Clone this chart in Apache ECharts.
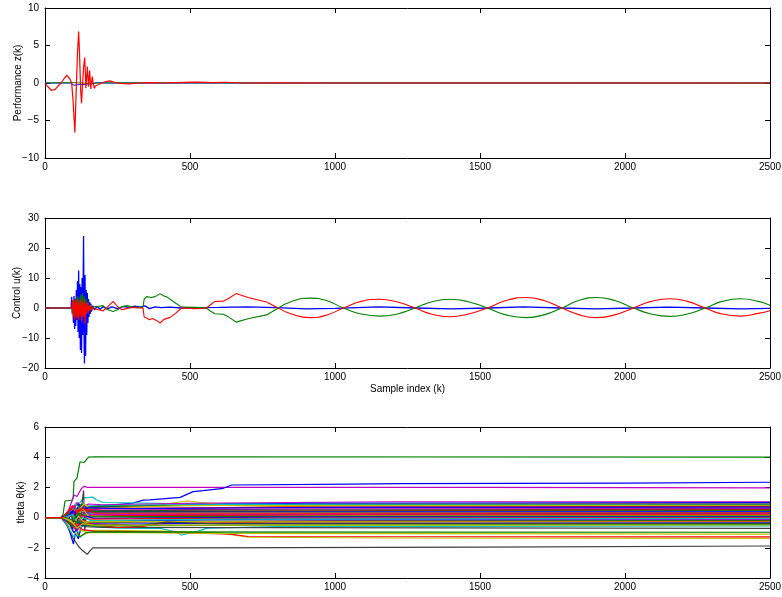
<!DOCTYPE html>
<html><head><meta charset="utf-8">
<script src="https://cdn.jsdelivr.net/npm/echarts@6/dist/echarts.min.js"></script>
<style>html,body{margin:0;padding:0;background:#fff}#c{width:782px;height:597px}</style>
</head><body><div id="c"></div>
<script>
// ---------- data ----------
const kTicks = [0, 500, 1000, 1500, 2000, 2500];
const zTicks = [-10, -5, 0, 5, 10];
const uTicks = [-20, -10, 0, 10, 20, 30];
const thTicks = [-4, -2, 0, 2, 4, 6];

// Panel 1: performance z(k)
const zBlue = [[0,0],[88,0],[92,-0.2],[100,-0.3],[120,-0.2],[140,-0.18],[160,-0.1],[180,0.05],[200,0],[2500,0]];
const zGreen = [[0,0],[100,0.05],[150,-0.05],[200,0.02],[2500,0]];
const zRed = [[0,0],[10,-0.5],[23,-1],[35,-0.85],[55,0],[75,1.05],[85,0.6],[92,0],[97,-2.5],[103,-6.6],[108,-0.5],[112,4],[116,6.85],[119,4],[123,-1],[126,-2.7],[129,-0.5],[133,2],[137,3.4],[139,1.5],[141,-0.7],[143,0.5],[146,2.2],[148,0.8],[150,-0.5],[152,0.5],[154,1.65],[156,0.3],[158,-0.8],[160,0],[163,0.85],[166,0],[170,-0.7],[174,-0.4],[178,-0.3],[185,-0.2],[195,0],[210,0.2],[224,0.28],[240,0.1],[260,-0.05],[290,-0.12],[320,0],[360,0.06],[400,0],[450,0.05],[520,0.12],[580,0.05],[620,0.1],[680,0],[800,0.03],[1000,0],[2500,0]];

// Panel 2: control u(k)
const uBlue = [[0,0],[90,0],[92,3.7],[94,-2],[96,2],[98,-5],[100,4],[102,-7],[104,3],[106,-6],[108,6],[110,-4],[112,9],[114,-8],[116,12.5],[118,-10],[120,8],[122,-14],[124,7],[126,-15],[128,10],[130,-9],[132,13],[133,24],[135,-12],[136,-18.5],[138,11],[140,-16],[142,6],[144,-9],[146,5],[148,-5],[150,3],[152,-3],[154,2],[156,-2],[158,1.5],[160,-1.2],[165,0.8],[170,-0.6],[180,0.5],[190,-0.4],[200,0.4],[215,-0.3],[230,0.4],[250,-0.2],[270,0.5],[290,0.2],[310,0.6],[330,0.3],[345,0.7],[360,-0.2],[380,0.4],[400,0.1],[430,0.3],[470,0],[520,0.1],[600,0.2],[700,0.4],[800,0.1],[900,-0.3],[1000,-0.1],[1150,0.35],[1280,0],[1400,-0.3],[1530,0],[1650,0.4],[1780,0],[1900,-0.3],[2030,0],[2150,0.3],[2280,0],[2400,-0.3],[2500,-0.1]];
const uRedEarly = [[0,0],[92,0],[95,2.5],[98,-3],[100,3],[103,-4],[106,2.5],[109,-3.5],[112,3],[115,-4],[118,2],[121,-3],[124,3],[127,-4.5],[130,2],[133,-3],[136,2.5],[138,-5.5],[141,1.5],[144,-2],[147,2],[150,-1.5],[153,1],[156,-1],[160,0.5],[170,-0.3],[185,-0.6],[200,-1],[215,0.3],[235,2.2],[250,0.5],[265,-0.6],[280,-0.2],[300,0.2],[320,0],[338,0],[342,-3],[350,-3.3],[360,-3.9],[370,-3.5],[385,-4.2],[397,-5],[410,-3.8],[430,-3.2],[450,-1.8],[471,0],[520,-0.2],[555,-0.1],[570,1],[586,2.2],[615,2.3],[630,3],[659,4.8],[700,3.5],[764,2],[800,0.2]];
const uRedLate = [[800,0.2],[850,-2],[914,-3.2],[970,-2.4],[1029,0],[1090,2.2],[1155,2.9],[1215,2],[1276,0],[1335,-2.1],[1397,-2.9],[1460,-2],[1525,0],[1590,2.5],[1659,3.5],[1720,2.5],[1782,0],[1840,-2.2],[1902,-3.2],[1965,-2.3],[2029,0],[2090,2.2],[2155,3.1],[2215,2.2],[2276,0],[2335,-2],[2397,-2.7],[2460,-1.8],[2500,-0.9]];
const uGreenEarly = [[0,0],[92,0],[96,-2],[99,2.5],[102,-3],[105,3],[108,-2.5],[111,4],[114,-3],[117,3.5],[120,-2.5],[123,4.5],[126,-3],[129,5],[132,-2],[135,4],[138,-3],[141,3],[144,-1.5],[148,2],[152,-1],[156,1],[160,-0.5],[170,0.4],[185,0.6],[200,0.8],[215,-0.5],[235,-1.2],[250,-0.6],[265,0.4],[282,0.8],[300,0.4],[320,0.2],[338,0.3],[342,3],[351,3.8],[365,3.5],[380,3.8],[397,4.8],[410,4],[420,3.7],[445,2],[471,0.3],[520,0.2],[555,0.1],[570,-1],[586,-1.9],[615,-2.1],[630,-2.8],[659,-4.7],[700,-3.6],[764,-2.3],[805,0]];
const uGreenLate = [[805,0],[850,2.2],[914,3.3],[970,2.5],[1029,0],[1090,-2],[1155,-2.7],[1215,-2],[1276,0],[1335,2.1],[1397,2.9],[1460,2.1],[1525,0],[1590,-2.3],[1659,-3.2],[1720,-2.3],[1782,0],[1840,2.5],[1902,3.5],[1965,2.5],[2029,0],[2090,-2],[2155,-2.8],[2215,-2],[2276,0],[2335,2.2],[2397,3.1],[2460,2.2],[2500,0.9]];

// Panel 3: parameter estimates theta(k), one array per estimate
const thetaLines = [
 [[0,0],[55,0],[62,0.2],[69,1.1],[92,1.15],[97,1.3],[100,2.4],[110,2.6],[121,3.7],[135,3.65],[150,4.0],[172,4.03],[2500,4.0]],
 [[0,0],[60,0],[80,0.4],[95,1.2],[100,1.5],[110,1.4],[125,1.9],[135,2.08],[145,2.0],[500,2.0],[1500,2.0],[2500,1.97]],
 [[0,0],[60,0],[80,0.3],[95,-0.8],[105,0.5],[120,0.8],[150,0.75],[200,0.8],[300,0.95],[339,1.16],[362,1.17],[466,1.34],[511,1.72],[545,1.79],[615,1.94],[644,2.16],[1052,2.22],[1224,2.25],[2000,2.28],[2500,2.34]],
 [[0,0],[55,0],[75,-0.5],[95,-1.3],[115,-1.9],[130,-2.2],[146,-2.43],[155,-2.2],[165,-2.0],[500,-2.0],[1500,-1.95],[2500,-1.88]],
 [[0,0],[60,0],[80,0.3],[100,0.7],[120,1.0],[135,1.3],[165,1.35],[175,1.2],[200,1.0],[400,0.95],[1000,0.9],[2500,0.95]],
 [[0,0],[70,0],[100,0.3],[125,0.5],[133,1.8],[137,-0.9],[142,0.2],[160,0.1],[500,0.2],[2500,0.3]],
 [[0,0],[60,0],[80,-0.6],[98,-1.75],[105,-1.0],[115,-1.4],[125,-0.6],[150,-0.3],[300,-0.2],[800,-0.1],[2500,-0.1]],
 [[0,0],[60,0],[85,-0.8],[100,-1.3],[115,-1.0],[130,-0.4],[170,-0.6],[250,-0.7],[400,-0.72],[450,-0.95],[471,-1.15],[510,-1.0],[560,-0.7],[800,-0.6],[2500,-0.55]],
 [[0,0],[70,0],[100,-0.6],[130,-0.9],[170,-0.85],[400,-0.9],[600,-1.0],[700,-1.3],[1200,-1.35],[2500,-1.37]],
 [[0,0],[70,0],[100,-0.4],[130,-0.8],[170,-0.9],[400,-0.95],[640,-1.1],[700,-1.25],[2500,-1.27]],
 [[0,0],[65,0],[95,-0.9],[120,-1.2],[150,-1.0],[300,-1.0],[600,-1.05],[2500,-1.1]],
 [[0,0],[65,0],[100,-0.5],[120,-1.3],[140,-1.0],[170,-0.95],[2500,-0.97]],
 [[0,0],[65,0],[100,-0.3],[140,-0.6],[200,-0.65],[2500,-0.71]],
 [[0,0],[70,0],[110,0.3],[140,0.6],[200,0.7],[400,0.85],[490,1.1],[540,1.0],[650,0.8],[1000,0.7],[2500,0.65]],
 [[0,0],[60,0],[85,0.3],[110,0.9],[140,0.6],[200,0.7],[400,0.8],[1000,0.9],[2500,0.95]],
 [[0,0],[55,0],[75,0.2],[95,0.6],[110,1.0],[130,0.7],[150,0.9],[200,0.85],[500,0.95],[1200,1.05],[2500,1.05]],
 [[0,0],[60,0],[85,0.5],[100,-0.3],[115,0.9],[130,0.6],[160,0.7],[300,0.8],[900,0.95],[2500,1.0]],
 [[0,0],[50,0],[70,0.1],[90,0.4],[105,0.9],[125,0.5],[150,0.75],[250,0.8],[700,0.88],[2500,0.9]],
 [[0,0],[60,0],[90,-0.2],[110,0.4],[125,0.9],[145,0.7],[200,0.75],[600,0.8],[2500,0.85]],
 [[0,0],[70,0],[95,0.3],[115,0.5],[135,0.9],[155,0.6],[220,0.65],[480,0.8],[2500,0.8]],
 [[0,0],[55,0],[85,-0.4],[105,0.2],[120,0.6],[140,0.5],[200,0.6],[800,0.7],[2500,0.75]],
 [[0,0],[65,0],[90,0.2],[100,-0.5],[118,0.4],[140,0.65],[300,0.6],[1000,0.68],[2500,0.7]],
 [[0,0],[60,0],[80,0.3],[100,0.8],[120,0.2],[145,0.5],[250,0.5],[900,0.58],[2500,0.6]],
 [[0,0],[70,0],[95,0.4],[110,-0.2],[130,0.5],[160,0.45],[600,0.5],[2500,0.55]],
 [[0,0],[60,0],[90,0.6],[105,0.1],[125,0.55],[150,0.35],[300,0.4],[1500,0.48],[2500,0.5]],
 [[0,0],[65,0],[95,-0.6],[110,0.3],[130,0.2],[150,0.4],[500,0.42],[2500,0.45]],
 [[0,0],[55,0],[80,0.2],[100,0.5],[115,-0.1],[135,0.3],[200,0.35],[1200,0.38],[2500,0.4]],
 [[0,0],[60,0],[85,-0.3],[105,0.6],[125,0.1],[150,0.3],[700,0.33],[2500,0.35]],
 [[0,0],[70,0],[95,0.3],[115,-0.4],[135,0.3],[160,0.2],[800,0.22],[2500,0.25]],
 [[0,0],[60,0],[90,0.1],[110,0.5],[125,-0.2],[145,0.1],[400,0.15],[2500,0.2]],
 [[0,0],[65,0],[95,-0.2],[110,0.2],[130,0.6],[150,0.1],[400,0.0],[1000,0.1],[2500,0.15]],
 [[0,0],[60,0],[85,0.3],[100,-0.2],[120,0.3],[145,0.05],[600,0.08],[2500,0.1]],
 [[0,0],[70,0],[100,0.4],[120,-0.5],[140,0.1],[170,-0.05],[800,0.03],[2500,0.05]],
 [[0,0],[55,0],[80,-0.2],[105,-0.7],[125,0.2],[150,-0.1],[500,-0.05],[2500,0]],
 [[0,0],[65,0],[95,0.2],[110,-0.3],[130,0.0],[160,-0.2],[600,-0.1],[2500,-0.05]],
 [[0,0],[60,0],[90,-0.5],[110,-0.9],[125,-0.3],[145,-0.4],[300,-0.3],[1000,-0.2],[2500,-0.15]],
 [[0,0],[70,0],[95,-0.2],[115,0.3],[135,-0.5],[160,-0.3],[500,-0.25],[2500,-0.2]],
 [[0,0],[60,0],[90,-0.3],[110,-0.6],[130,-0.2],[170,-0.5],[250,-0.65],[330,-0.6],[400,-0.4],[800,-0.3],[2500,-0.25]],
 [[0,0],[65,0],[100,-0.4],[115,0.1],[135,-0.3],[200,-0.25],[700,-0.28],[2500,-0.3]],
 [[0,0],[60,0],[85,-0.4],[100,-1.0],[120,-0.5],[150,-0.45],[500,-0.4],[2500,-0.35]],
 [[0,0],[70,0],[110,-0.3],[140,-0.5],[250,-0.45],[320,-0.55],[420,-0.3],[600,-0.42],[2500,-0.4]],
 [[0,0],[65,0],[95,-0.6],[115,-0.2],[140,-0.5],[200,-0.55],[1000,-0.48],[2500,-0.45]],
 [[0,0],[60,0],[90,-0.2],[110,-0.7],[130,-0.4],[170,-0.5],[900,-0.5],[2500,-0.49]],
 [[0,0],[60,0],[95,0.8],[110,0.3],[130,0.6],[170,0.3],[1000,0.3],[2500,0.32]]
];
// colour index of each estimate (MATLAB default order: b g r c m y k)
const thetaColorIdx = [1,4,0,6,3,6,0,3,5,2,5,1,6,5,2,4,0,3,1,5,2,0,4,6,2,1,0,3,4,2,5,1,0,2,3,4,1,2,5,0,6,1,5,2];

// ---------- styling ----------
const palette = ['#0000ff','#008000','#ff0000','#00bfbf','#bf00bf','#bfbf00','#404040'];
const FONT = '"Liberation Sans", Arial, Helvetica, sans-serif';
const L = 45, W = 725;
const grids = [
  {left: L, width: W, top: 8, height: 150, outerBoundsMode: 'none', containLabel: false},
  {left: L, width: W, top: 218, height: 150, outerBoundsMode: 'none', containLabel: false},
  {left: L, width: W, top: 427, height: 151, outerBoundsMode: 'none', containLabel: false}
];
const yRanges = [zTicks, uTicks, thTicks];
const yNames = ['Performance z(k)', 'Control u(k)', 'theta \u03b8(k)'];
const yNameGaps = [22, 23, 19];
const fmtY = v => String(v).replace('-', '\u2212');
const fmtX = v => String(v);

const xAxis = [], yAxis = [];
grids.forEach((g, i) => {
  const common = {
    gridIndex: i, type: 'value', min: kTicks[0], max: kTicks[kTicks.length-1],
    interval: kTicks[1]-kTicks[0],
    axisLine: {show: true, onZero: false, lineStyle: {color: '#000', width: 1}},
    axisTick: {show: true, inside: true, length: 5, lineStyle: {color: '#000'}},
    splitLine: {show: false}
  };
  xAxis.push(Object.assign({}, common, {
    position: 'bottom',
    axisLabel: {show: true, color: '#000', fontFamily: FONT, fontSize: 10, margin: 4, formatter: fmtX,
      showMinLabel: true, showMaxLabel: true, hideOverlap: false},
    name: i === 1 ? 'Sample index (k)' : '', nameLocation: 'middle', nameGap: 16, nameMoveOverlap: false,
    nameTextStyle: {color: '#000', fontFamily: FONT, fontSize: 10}
  }));
  xAxis.push(Object.assign({}, common, {position: 'top', axisLabel: {show: false}}));
  const t = yRanges[i];
  const yc = {
    gridIndex: i, type: 'value', min: t[0], max: t[t.length-1], interval: t[1]-t[0],
    axisLine: {show: true, onZero: false, lineStyle: {color: '#000', width: 1}},
    axisTick: {show: true, inside: true, length: 5, lineStyle: {color: '#000'}},
    splitLine: {show: false}
  };
  yAxis.push(Object.assign({}, yc, {
    position: 'left',
    axisLabel: {show: true, color: '#000', fontFamily: FONT, fontSize: 10, margin: 6, formatter: fmtY,
      showMinLabel: true, showMaxLabel: true},
    name: yNames[i], nameLocation: 'middle', nameRotate: 90, nameGap: yNameGaps[i], nameMoveOverlap: false,
    nameTextStyle: {color: '#000', fontFamily: FONT, fontSize: 10}
  }));
  yAxis.push(Object.assign({}, yc, {position: 'right', axisLabel: {show: false}}));
});

function line(data, color, ax, width, smooth) {
  return {type: 'line', data: data, xAxisIndex: ax, yAxisIndex: ax, showSymbol: false,
    symbol: 'none', smooth: smooth || false, lineStyle: {color: color, width: width || 1},
    silent: true, z: 2};
}

const series = [];
series.push(line(zBlue, palette[0], 0));
series.push(line(zGreen, palette[1], 0));
series.push(line(zRed, palette[2], 0, 1.2));

thetaLines.forEach((d, j) => series.push(line(d, palette[thetaColorIdx[j]], 4, 1.2)));

series.push(line(uBlue, palette[0], 2, 1.3));
series.push(line(uGreenEarly, palette[1], 2, 1.1));
series.push(line(uGreenLate, palette[1], 2, 1.1, 0.5));
series.push(line(uRedEarly, palette[2], 2, 1.1));
series.push(line(uRedLate, palette[2], 2, 1.1, 0.5));

const chart = echarts.init(document.getElementById('c'), null, {renderer: 'canvas'});
chart.setOption({animation: false, backgroundColor: '#fff', grid: grids, xAxis: xAxis, yAxis: yAxis, series: series});
</script></body></html>
